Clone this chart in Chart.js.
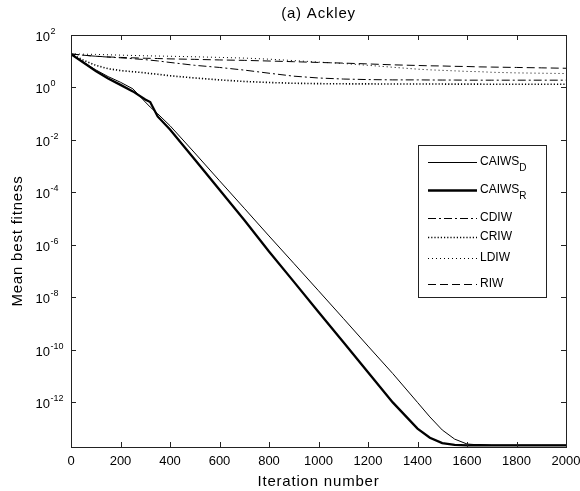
<!DOCTYPE html>
<html>
<head>
    <title>(a) Ackley</title>
    <script src="https://cdn.jsdelivr.net/npm/chart.js"></script>
    <style>
        body { margin: 0; background: #fff; }
    </style>
</head>
<body>
    <canvas id="myChart" width="580" height="491"></canvas>

    <script>
        // iteration numbers shared by every series
        const iters = [0, 50, 100, 150, 200, 250, 300, 320, 350, 400, 500, 600, 700, 800, 900,
                       1000, 1100, 1200, 1300, 1400, 1450, 1500, 1550, 1600, 1650, 1700, 1800, 1900, 2000];

        const caiwsD = [18.6, 9.3, 4.7, 2.6, 1.58, 0.89, 0.28, 0.18, 0.1, 0.035, 3.2e-3, 2.8e-4, 2.5e-5, 2.2e-6, 2.0e-7,
                        1.8e-8, 1.6e-9, 1.4e-10, 1.26e-11, 1.0e-12, 2.8e-13, 8.9e-14, 4.0e-14, 2.6e-14, 2.4e-14, 2.35e-14, 2.35e-14, 2.35e-14, 2.35e-14];
        const caiwsR = [18.6, 8.9, 4.2, 2.2, 1.26, 0.71, 0.35, 0.28, 0.079, 0.025, 1.8e-3, 1.26e-4, 8.9e-6, 5.6e-7, 4.0e-8,
                        2.8e-9, 2.0e-10, 1.4e-11, 1.0e-12, 1.0e-13, 4.5e-14, 2.8e-14, 2.4e-14, 2.3e-14, 2.35e-14, 2.3e-14, 2.3e-14, 2.3e-14, 2.3e-14];
        const cdiw   = [19, 17, 15.5, 14.4, 13.5, 12.5, 11.5, 11, 10.3, 9, 7, 5.8, 4.6, 3.5, 2.7,
                        2.3, 2.1, 2.0, 1.95, 1.95, 1.93, 1.92, 1.92, 1.9, 1.9, 1.9, 1.9, 1.9, 1.9];
        const criw   = [19, 11, 7, 5.2, 4.4, 4.0, 3.6, 3.4, 3.2, 2.8, 2.3, 1.95, 1.7, 1.55, 1.45,
                        1.4, 1.38, 1.37, 1.36, 1.35, 1.35, 1.35, 1.34, 1.34, 1.34, 1.33, 1.33, 1.33, 1.32];
        const ldiw   = [19, 18.6, 18.2, 17.6, 17.1, 16.6, 16.1, 16.0, 15.8, 15.5, 14.8, 14.0, 13.2, 12.0, 10.6,
                        9.3, 8.2, 7.0, 5.9, 5.0, 4.7, 4.5, 4.3, 4.1, 4.0, 3.8, 3.6, 3.5, 3.4];
        const riw    = [19, 17, 15.5, 14.6, 14, 13.5, 13, 12.9, 12.7, 12.3, 11.8, 11.2, 10.8, 10.2, 9.6,
                        9.0, 8.5, 7.9, 7.3, 6.9, 6.7, 6.6, 6.4, 6.3, 6.1, 6.0, 5.8, 5.6, 5.4];

        const seriesNames = ['CAIWS', 'CAIWS', 'CDIW', 'CRIW', 'LDIW', 'RIW'];
        const seriesSubs  = ['D', 'R', '', '', '', ''];

        const xTicks = [0, 200, 400, 600, 800, 1000, 1200, 1400, 1600, 1800, 2000];
        const yTickExps = [2, 0, -2, -4, -6, -8, -10, -12];

        const styles = [
            { width: 1,   dash: [] },
            { width: 2.3, dash: [] },
            { width: 1,   dash: [8, 3, 2, 3] },
            { width: 1.6, dash: [1.2, 2] },
            { width: 1,   dash: [1, 3] },
            { width: 1,   dash: [8, 4] }
        ];

        const allValues = [caiwsD, caiwsR, cdiw, criw, ldiw, riw];

        const datasets = allValues.map((vals, i) => ({
            label: seriesNames[i] + seriesSubs[i],
            data: iters.map((it, j) => ({ x: it, y: vals[j] })),
            borderColor: '#000',
            borderWidth: styles[i].width,
            borderDash: styles[i].dash,
            pointRadius: 0,
            fill: false,
            tension: 0
        }));

        const FONT = 'Arial, "Liberation Sans", sans-serif';

        const matlabAxes = {
            id: 'matlabAxes',
            afterDraw(chart) {
                const ctx = chart.ctx;
                const a = chart.chartArea;
                const xs = chart.scales.x, ys = chart.scales.y;
                ctx.save();
                ctx.setLineDash([]);
                ctx.strokeStyle = '#222';
                ctx.lineWidth = 1;
                ctx.strokeRect(Math.round(a.left) + 0.5, Math.round(a.top) + 0.5,
                               Math.round(a.right - a.left), Math.round(a.bottom - a.top));

                // inward ticks on all four sides
                ctx.beginPath();
                xTicks.forEach(t => {
                    const px = Math.round(xs.getPixelForValue(t)) + 0.5;
                    ctx.moveTo(px, a.bottom); ctx.lineTo(px, a.bottom - 5);
                    ctx.moveTo(px, a.top); ctx.lineTo(px, a.top + 5);
                });
                yTickExps.forEach(e => {
                    const py = Math.round(ys.getPixelForValue(Math.pow(10, e))) + 0.5;
                    ctx.moveTo(a.left, py); ctx.lineTo(a.left + 5, py);
                    ctx.moveTo(a.right, py); ctx.lineTo(a.right - 5, py);
                });
                ctx.stroke();

                ctx.fillStyle = '#000';
                ctx.font = '13px ' + FONT;
                ctx.textAlign = 'center';
                ctx.textBaseline = 'middle';
                xTicks.forEach(t => {
                    ctx.fillText(String(t), xs.getPixelForValue(t), a.bottom + 14);
                });

                yTickExps.forEach(e => {
                    const py = ys.getPixelForValue(Math.pow(10, e));
                    ctx.font = '13px ' + FONT;
                    ctx.textAlign = 'right';
                    ctx.textBaseline = 'alphabetic';
                    ctx.fillText('10', 50, py + 6);
                    ctx.font = '9px ' + FONT;
                    ctx.textAlign = 'left';
                    ctx.fillText(String(e), 50.5, py - 1);
                });

                // title and axis labels, spaced out like the original rendering
                ctx.font = '15px ' + FONT;
                ctx.letterSpacing = '0.8px';
                ctx.textAlign = 'center';
                ctx.textBaseline = 'middle';
                const cx = (a.left + a.right) / 2;
                ctx.fillText('(a) Ackley', cx, 14);
                ctx.fillText('Iteration number', cx, 482);
                ctx.save();
                ctx.translate(18, (a.top + a.bottom) / 2);
                ctx.rotate(-Math.PI / 2);
                ctx.fillText('Mean best fitness', 0, 0);
                ctx.restore();
                ctx.letterSpacing = '0px';

                // legend box
                const lx = 418, ly = 145, lw = 128, lh = 152;
                ctx.fillStyle = '#fff';
                ctx.fillRect(lx, ly, lw, lh);
                ctx.strokeStyle = '#222';
                ctx.lineWidth = 1;
                ctx.strokeRect(lx + 0.5, ly + 0.5, lw, lh);
                const rowY = [162, 190, 218, 237, 258, 284];
                chart.data.datasets.forEach((ds, i) => {
                    const y = rowY[i];
                    ctx.save();
                    ctx.strokeStyle = '#000';
                    ctx.lineWidth = ds.borderWidth;
                    ctx.setLineDash(ds.borderDash);
                    ctx.beginPath();
                    ctx.moveTo(428, y + 0.5);
                    ctx.lineTo(477, y + 0.5);
                    ctx.stroke();
                    ctx.restore();
                    ctx.fillStyle = '#000';
                    ctx.font = '12px ' + FONT;
                    ctx.textAlign = 'left';
                    ctx.textBaseline = 'middle';
                    ctx.fillText(seriesNames[i], 480, y);
                    if (seriesSubs[i]) {
                        const w = ctx.measureText(seriesNames[i]).width;
                        ctx.font = '10px ' + FONT;
                        ctx.fillText(seriesSubs[i], 480 + w, y + 6);
                    }
                });
                ctx.restore();
            }
        };

        new Chart(document.getElementById('myChart'), {
            type: 'line',
            data: { datasets: datasets },
            options: {
                responsive: false,
                animation: false,
                layout: { padding: { left: 71, right: 14, top: 35, bottom: 44 } },
                scales: {
                    x: { type: 'linear', min: 0, max: 2000, display: false },
                    y: { type: 'logarithmic', min: 2e-14, max: 100, display: false }
                },
                plugins: {
                    legend: { display: false },
                    tooltip: { enabled: false }
                }
            },
            plugins: [matlabAxes]
        });
    </script>
</body>
</html>
